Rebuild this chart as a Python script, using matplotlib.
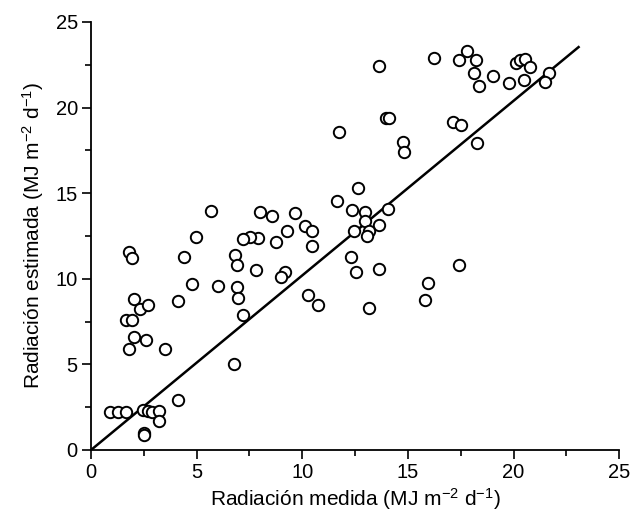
import matplotlib
matplotlib.use("Agg")
import matplotlib.pyplot as plt
from matplotlib.ticker import MultipleLocator

plt.rcParams['font.family'] = ['Liberation Sans', 'DejaVu Sans']
plt.rcParams['mathtext.fontset'] = 'custom'
plt.rcParams['mathtext.rm'] = 'Liberation Sans'
plt.rcParams['mathtext.it'] = 'Liberation Sans'

measured = [0.89, 1.27, 1.64, 2.44, 2.68, 2.90, 3.24, 3.24, 4.13, 2.50, 2.52,
            4.99, 1.80, 1.94, 4.40, 4.80, 6.02, 2.02, 2.33, 2.72, 4.10, 1.68,
            1.94, 2.02, 2.62, 1.82, 3.51, 5.69, 7.98, 8.58, 9.66, 10.13, 10.48,
            10.47, 9.26, 8.78, 7.90, 7.54, 7.20, 6.81, 6.92, 7.79, 9.19, 8.98,
            6.92, 6.98, 7.20, 10.28, 10.75, 6.79, 11.66, 11.75, 13.65, 13.96,
            14.12, 17.12, 17.51, 14.76, 14.84, 12.64, 12.36, 12.96, 14.05, 12.99,
            13.65, 12.44, 13.15, 13.05, 12.33, 12.55, 13.65, 17.42, 15.93, 15.79,
            13.15, 18.27, 16.24, 17.40, 17.79, 18.22, 18.12, 18.39, 19.01, 19.80,
            20.11, 20.33, 20.53, 20.80, 20.48, 21.70, 21.49]
estimated = [2.20, 2.20, 2.20, 2.35, 2.25, 2.20, 2.30, 1.70, 2.90, 1.00, 0.85,
             12.44, 11.56, 11.19, 11.27, 9.69, 9.59, 8.81, 8.26, 8.46, 8.73, 7.58,
             7.60, 6.61, 6.42, 5.87, 5.87, 13.94, 13.90, 13.68, 13.84, 13.10, 12.77,
             11.93, 12.77, 12.16, 12.40, 12.44, 12.34, 11.36, 10.78, 10.53, 10.37, 10.08,
             9.51, 8.87, 7.91, 9.06, 8.46, 5.01, 14.52, 18.60, 22.42, 19.40,
             19.40, 19.15, 19.00, 18.01, 17.41, 15.30, 13.99, 13.92, 14.08, 13.39,
             13.12, 12.79, 12.81, 12.47, 11.25, 10.39, 10.57, 10.80, 9.73, 8.77,
             8.32, 17.94, 22.87, 22.75, 23.33, 22.75, 21.99, 21.25, 21.87, 21.44,
             22.61, 22.77, 22.85, 22.38, 21.60, 22.03, 21.48]

line_x = [0.0, 23.08]
line_y = [0.0, 23.53]

tick_vals = [0, 5, 10, 15, 20, 25]

fig = plt.figure(figsize=(6.31, 5.17), dpi=100)
ax = fig.add_axes([0.1442, 0.1296, 0.837, 0.828])

ax.plot(line_x, line_y, color='black', lw=1.8, zorder=2)
ax.plot(measured, estimated, linestyle='none', marker='o', markersize=8.2,
        markerfacecolor='white', markeredgecolor='black', markeredgewidth=1.4,
        zorder=3, clip_on=False)

ax.set_xlim(0, 25)
ax.set_ylim(0, 25)
ax.set_xticks(tick_vals)
ax.set_yticks(tick_vals)
ax.xaxis.set_minor_locator(MultipleLocator(2.5))
ax.yaxis.set_minor_locator(MultipleLocator(2.5))
ax.tick_params(which='major', direction='out', length=6.5, width=1.2,
               labelsize=14.5, colors='black', pad=3)
ax.tick_params(which='minor', direction='out', length=4, width=1.2)
for s in ['top', 'right']:
    ax.spines[s].set_visible(False)
for s in ['left', 'bottom']:
    ax.spines[s].set_linewidth(1.3)

ax.set_xlabel(r'Radiación medida (MJ m$^{-2}$ d$^{-1}$)', fontsize=15, labelpad=3)
ax.set_ylabel(r'Radiación estimada (MJ m$^{-2}$ d$^{-1}$)', fontsize=15, labelpad=7)

fig.savefig('out.png', dpi=100, facecolor='white')
